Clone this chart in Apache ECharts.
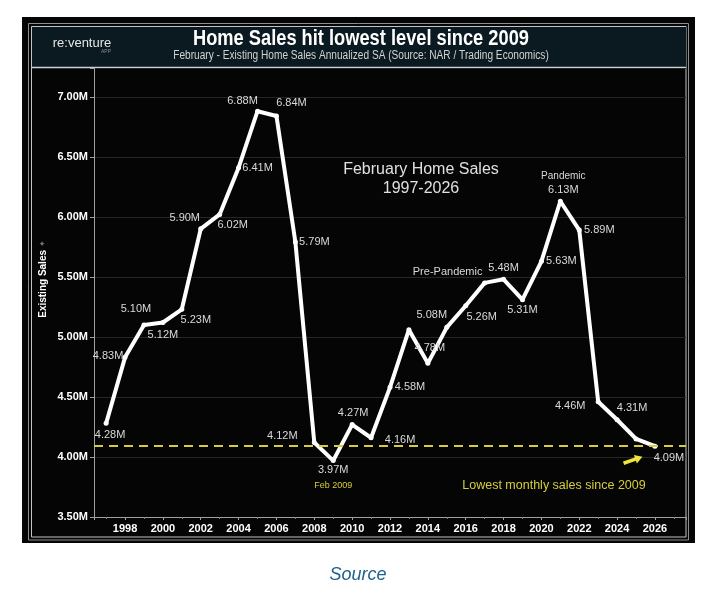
<!DOCTYPE html>
<html>
<head>
<meta charset="utf-8">
<script src="https://cdn.jsdelivr.net/npm/echarts@6/dist/echarts.min.js"></script>
<style>
  html, body { margin: 0; padding: 0; background: #fff; }
  #chart { width: 723px; height: 590px; }
</style>
</head>
<body>
<div id="chart"></div>
<script>
// February existing home sales, annualized (millions)
const years = [1997, 1998, 1999, 2000, 2001, 2002, 2003, 2004, 2005, 2006,
               2007, 2008, 2009, 2010, 2011, 2012, 2013, 2014, 2015, 2016,
               2017, 2018, 2019, 2020, 2021, 2022, 2023, 2024, 2025, 2026];
const sales = [4.28, 4.83, 5.10, 5.12, 5.23, 5.90, 6.02, 6.41, 6.88, 6.84,
               5.79, 4.12, 3.97, 4.27, 4.16, 4.58, 5.06, 4.78, 5.08, 5.26,
               5.45, 5.48, 5.31, 5.63, 6.13, 5.89, 4.46, 4.31, 4.15, 4.09];
const xTicks = [1998, 2000, 2002, 2004, 2006, 2008, 2010, 2012, 2014,
                2016, 2018, 2020, 2022, 2024, 2026];
const yTicks = [3.5, 4.0, 4.5, 5.0, 5.5, 6.0, 6.5, 7.0];
const lowLevel = 4.09;
const notes = { 2009: 'Feb 2009', 2017: 'Pre-Pandemic', 2021: 'Pandemic' };

// where each value label sits relative to its point
const labelOffset = {
  1997: [4, 12], 1998: [-17, -1], 1999: [-8, -16], 2000: [0, 12], 2001: [14, 11],
  2002: [-16, -11], 2003: [13, 11], 2004: [19, 0], 2005: [-15, -10], 2006: [15, -13],
  2007: [19, 0], 2008: [-32, -7], 2009: [0, 17], 2010: [1, -12], 2011: [29, 2],
  2012: [20, 0], 2014: [2, -15], 2015: [-15, -12], 2016: [16, 11], 2017: [-37, -11],
  2018: [0, -11], 2019: [0, 10], 2020: [20, 0], 2021: [3, -18], 2022: [20, 0],
  2023: [-28, 4], 2024: [15, -12], 2026: [14, 12]
};

const FONT = '"Liberation Sans", Arial, sans-serif';
const YELLOW = '#d6cd3c';

function labelText(year, v) {
  const t = v.toFixed(2) + 'M';
  if (year === 2009) return t + '\n{note|' + notes[year] + '}';
  if (year === 2021) return '{pan|' + notes[year] + '}\n' + t;
  if (year === 2017) return notes[year];
  return t;
}

const seriesData = years.map((y, i) => {
  const off = labelOffset[y];
  return {
    value: [y, sales[i]],
    label: off ? { show: true, offset: off, formatter: labelText(y, sales[i]) } : { show: false }
  };
});

const chart = echarts.init(document.getElementById('chart'));
const option = {
  backgroundColor: '#fff',
  animation: false,
  grid: { left: 94, right: 37, top: 68, bottom: 73, show: false },
  xAxis: {
    type: 'value', min: 1996.36, max: 2027.64,
    splitNumber: 16, minInterval: 2, maxInterval: 2,
    axisLine: { lineStyle: { color: '#a0a0a0', width: 1 } },
    axisTick: { show: true, length: 3, lineStyle: { color: '#a0a0a0' } },
    minorTick: { show: true, splitNumber: 2, length: 2, lineStyle: { color: '#808080' } },
    splitLine: { show: false },
    axisLabel: {
      color: '#fff', fontFamily: FONT, fontWeight: 'bold', fontSize: 11, margin: 6,
      formatter: v => xTicks.includes(v) ? String(v) : ''
    }
  },
  yAxis: {
    type: 'value', min: 3.5, max: 7.24, interval: 0.5,
    axisLine: { show: true, lineStyle: { color: '#a0a0a0', width: 1 } },
    axisTick: { show: true, length: 4, lineStyle: { color: '#a0a0a0' } },
    splitLine: { lineStyle: { color: '#262626', width: 1 } },
    axisLabel: {
      color: '#fff', fontFamily: FONT, fontWeight: 'bold', fontSize: 11, margin: 6,
      formatter: v => yTicks.some(t => Math.abs(t - v) < 1e-6) ? v.toFixed(2) + 'M' : ''
    }
  },
  series: [{
    type: 'line',
    data: seriesData,
    symbol: 'circle', symbolSize: 5, showAllSymbol: true,
    lineStyle: { color: '#fff', width: 4 },
    itemStyle: { color: '#fff' },
    z: 3,
    label: {
      position: 'inside', color: '#d9d9d9', fontFamily: FONT, fontSize: 11, lineHeight: 15,
      rich: {
        note: { color: YELLOW, fontSize: 9, fontFamily: FONT, lineHeight: 16 },
        pan: { color: '#d9d9d9', fontSize: 10, fontFamily: FONT, lineHeight: 14 }
      }
    },
    markLine: {
      silent: true, symbol: ['none', 'none'], label: { show: false },
      lineStyle: { color: YELLOW, type: [9, 6], width: 2 },
      data: [{ yAxis: lowLevel }]
    },
    markPoint: {
      silent: true, label: { show: false },
      data: [{
        coord: [2024.84, 3.975],
        symbol: 'path://M0,3 L10,3 L10,0 L16,5 L10,10 L10,7 L0,7 Z',
        symbolSize: [20, 9], symbolRotate: 19,
        itemStyle: { color: '#eee43a' }
      }]
    }
  }],
  graphic: [
    { type: 'rect', z: -10, shape: { x: 22, y: 17, width: 673, height: 526 }, style: { fill: '#050505' } },
    { type: 'rect', z: -9, shape: { x: 28.5, y: 23.5, width: 660, height: 516.5 },
      style: { fill: 'none', stroke: '#8e8e8e', lineWidth: 1 } },
    { type: 'rect', z: -9, shape: { x: 31.5, y: 26.5, width: 654.5, height: 510.5 },
      style: { fill: 'none', stroke: '#c4c4c4', lineWidth: 1 } },
    { type: 'rect', z: -8, shape: { x: 32, y: 27, width: 654, height: 40 }, style: { fill: '#0b1a20' } },
    { type: 'line', z: -7, shape: { x1: 32, y1: 67.5, x2: 686, y2: 67.5 },
      style: { stroke: '#c9d4d8', lineWidth: 1.5 } },
    // header: condensed title and subtitle
    { type: 'text', z: 10, x: 361, y: 39, scaleX: 0.83,
      style: { text: 'Home Sales hit lowest level since 2009', fill: '#fff', font: 'bold 22px ' + FONT,
        textAlign: 'center', textVerticalAlign: 'middle' } },
    { type: 'text', z: 10, x: 361, y: 56, scaleX: 0.81,
      style: { text: 'February - Existing Home Sales Annualized SA (Source: NAR / Trading Economics)',
        fill: '#d2d2d2', font: '12.5px ' + FONT, textAlign: 'center', textVerticalAlign: 'middle' } },
    { type: 'text', z: 10, x: 82, y: 43,
      style: { text: 're:venture', fill: '#e6e6e6', font: '13px ' + FONT, textAlign: 'center', textVerticalAlign: 'middle' } },
    { type: 'text', z: 10, x: 106, y: 52,
      style: { text: 'APP', fill: '#8a8a8a', font: '5px ' + FONT, textAlign: 'center', textVerticalAlign: 'middle' } },
    { type: 'text', z: 10, x: 43, y: 279, rotation: Math.PI / 2,
      style: {
        text: 'Existing Sales {p|✦}', fill: '#fff', font: 'bold 10px ' + FONT,
        textAlign: 'center', textVerticalAlign: 'middle',
        rich: { p: { fill: '#7a7a7a', fontSize: 8 } }
      } },
    { type: 'text', z: 10, x: 421, y: 179,
      style: {
        text: 'February Home Sales\n1997-2026', fill: '#e0e0e0', font: '16px ' + FONT,
        textAlign: 'center', textVerticalAlign: 'middle', lineHeight: 19
      } },
    { type: 'text', z: 10, x: 554, y: 486,
      style: { text: 'Lowest monthly sales since 2009', fill: YELLOW, font: '12.5px ' + FONT,
        textAlign: 'center', textVerticalAlign: 'middle' } },
    { type: 'text', z: 10, x: 358, y: 575,
      style: { text: 'Source', fill: '#1d5f8e', font: 'italic 18px ' + FONT,
        textAlign: 'center', textVerticalAlign: 'middle' } }
  ]
};
chart.setOption(option);
</script>
</body>
</html>
